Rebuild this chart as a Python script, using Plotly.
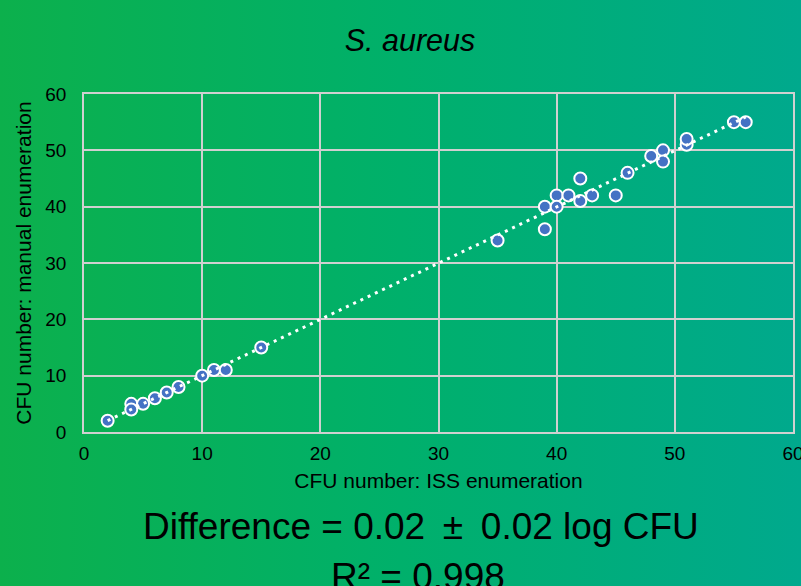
import base64
import numpy as np
import plotly.graph_objects as go

# ---- data ----
iss_cfu = [2, 4, 4, 5, 6, 7, 8, 10, 11, 12, 15, 35, 39, 39, 40, 40, 41, 42, 42, 43,
           45, 46, 48, 49, 49, 51, 51, 55, 56]
manual_cfu = [2, 5, 4, 5, 6, 7, 8, 10, 11, 11, 15, 34, 36, 40, 42, 40, 42, 45, 41, 42,
              42, 46, 49, 50, 48, 51, 52, 55, 55]
x_ticks = [0, 10, 20, 30, 40, 50, 60]
y_ticks = [0, 10, 20, 30, 40, 50, 60]

title_text = "<i>S. aureus</i>"
x_title = "CFU number: ISS enumeration"
y_title = "CFU number: manual enumeration"
line1 = "Difference = 0.02 \u2009\u00b1\u2009 0.02 log CFU"
line2 = "R\u00b2 = 0.998"

# linear trendline (least squares fit of the data, as in the original)
slope, intercept = np.polyfit(iss_cfu, manual_cfu, 1)
trend_x = [min(iss_cfu), max(iss_cfu)]
trend_y = [slope * v + intercept for v in trend_x]

W, H = 801, 586
ML, MR, MT, MB = 84, 8, 94, 154
PW, PH = W - ML - MR, H - MT - MB

FONT = "Liberation Sans, Arial, Helvetica, sans-serif"

svg = (
    f'<svg xmlns="http://www.w3.org/2000/svg" width="{W}" height="{H}" '
    f'preserveAspectRatio="none">'
    '<defs><linearGradient id="g" x1="0" y1="0" x2="1" y2="0">'
    '<stop offset="0" stop-color="#0CB04C"/>'
    '<stop offset="0.5" stop-color="#00B06B"/>'
    '<stop offset="1" stop-color="#00A98D"/>'
    '</linearGradient></defs>'
    f'<rect x="0" y="0" width="{W}" height="{H}" fill="url(#g)"/></svg>'
)
bg_uri = "data:image/svg+xml;base64," + base64.b64encode(svg.encode()).decode()

fig = go.Figure()
fig.add_trace(go.Scatter(
    x=iss_cfu, y=manual_cfu, mode="markers",
    marker=dict(size=12, color="#4472C4", line=dict(color="white", width=2)),
    showlegend=False, hoverinfo="x+y",
))
fig.add_trace(go.Scatter(
    x=trend_x, y=trend_y, mode="lines",
    line=dict(color="white", width=3, dash="3px,5px"),
    showlegend=False, hoverinfo="skip",
))

grid = "#D0D0D0"
fig.update_layout(
    width=W, height=H,
    margin=dict(l=ML, r=MR, t=MT, b=MB, pad=0, autoexpand=False),
    paper_bgcolor="#00AE6C",
    plot_bgcolor="rgba(0,0,0,0)",
    font=dict(family=FONT, color="black"),
    title=dict(text=title_text, font=dict(size=30.5, family=FONT, color="black"),
               x=410 / W, xref="container", xanchor="center",
               y=1 - 40 / H, yref="container", yanchor="middle"),
    xaxis=dict(range=[0, 60], tickvals=x_ticks, showgrid=True, gridcolor=grid,
               gridwidth=1.5, zeroline=False, showline=True, linecolor=grid,
               linewidth=1.5, mirror=True, ticks="", ticklabelstandoff=3,
               ticklabeloverflow="allow", automargin=False,
               tickfont=dict(size=19, family=FONT),
               title=dict(text=x_title, font=dict(size=21, family=FONT), standoff=11)),
    yaxis=dict(range=[0, 60], tickvals=y_ticks, showgrid=True, gridcolor=grid,
               gridwidth=1.5, zeroline=False, showline=True, linecolor=grid,
               linewidth=1.5, mirror=True, ticks="", ticklabelstandoff=12,
               ticklabeloverflow="allow", automargin=False,
               tickfont=dict(size=19, family=FONT),
               title=dict(text=y_title, font=dict(size=21, family=FONT), standoff=8)),
    images=[dict(source=bg_uri, xref="paper", yref="paper",
                 x=-ML / PW, y=1 + MT / PH, sizex=W / PW, sizey=H / PH,
                 sizing="stretch", layer="below", xanchor="left", yanchor="top")],
    annotations=[
        dict(text=line1, xref="paper", yref="paper", x=(420.5 - ML) / PW,
             y=(MT + PH - 526) / PH, xanchor="center", yanchor="middle",
             showarrow=False, font=dict(size=37, family=FONT, color="black")),
        dict(text=line2, xref="paper", yref="paper", x=(418 - ML) / PW,
             y=(MT + PH - 576) / PH, xanchor="center", yanchor="middle",
             showarrow=False, font=dict(size=37, family=FONT, color="black")),
    ],
)

fig.write_html("out.html",
               config={"displayModeBar": False},
               post_script="document.body.style.margin='0';"
                           "document.body.style.overflow='hidden';")
